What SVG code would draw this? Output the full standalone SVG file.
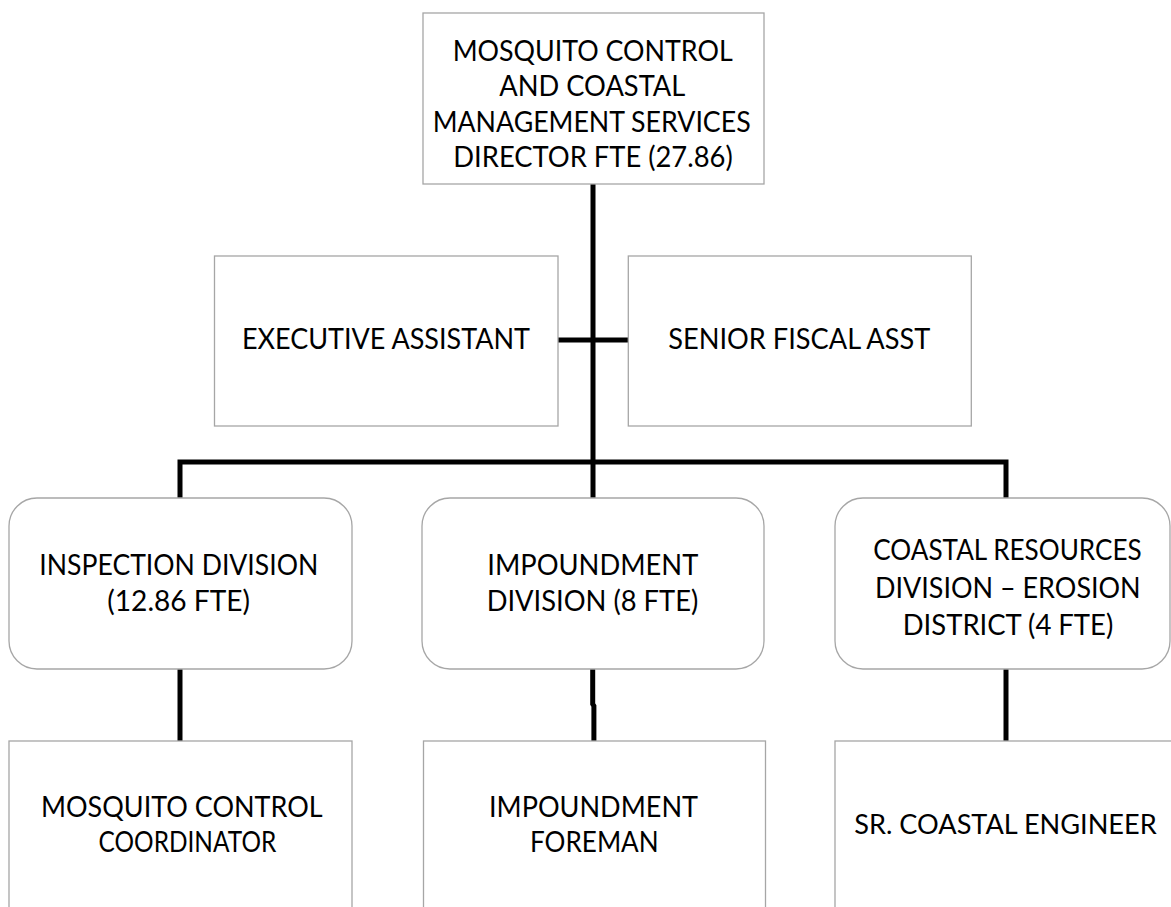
<svg xmlns="http://www.w3.org/2000/svg" width="1171" height="907" viewBox="0 0 1171 907">
<style>
.box{fill:#ffffff;stroke:#a6a6a6;stroke-width:1.3}
.t{font-family:Lato,"Open Sans","Liberation Sans",sans-serif;font-size:29px;fill:#000000}
.c{fill:none;stroke:#000000;stroke-width:5;stroke-linejoin:miter;stroke-linecap:butt}
</style>
<rect width="1171" height="907" fill="#ffffff"/>
<g id="connectors">
<path class="c" d="M593 184 V498"/>
<path class="c" d="M558 340 H628"/>
<path class="c" d="M180 498 V462 H1006 V498"/>
<path class="c" d="M180 669 V741"/>
<path class="c" d="M592.7 669 V704 L593.9 706 V741"/>
<path class="c" d="M1006 669 V741"/>
</g>
<g id="director">
<rect class="box" x="423" y="13" width="341" height="171"/>
<text class="t" x="452.7" y="60.5" textLength="280" lengthAdjust="spacingAndGlyphs">MOSQUITO CONTROL</text>
<text class="t" x="499.3" y="96" textLength="186" lengthAdjust="spacingAndGlyphs">AND COASTAL</text>
<text class="t" x="432.7" y="132" textLength="318" lengthAdjust="spacingAndGlyphs">MANAGEMENT SERVICES</text>
<text class="t" x="453.3" y="167" textLength="279.4" lengthAdjust="spacingAndGlyphs">DIRECTOR FTE (27.86)</text>
</g>
<g id="executive-assistant">
<rect class="box" x="214.5" y="256" width="343.5" height="170"/>
<text class="t" x="242" y="349.3" textLength="288" lengthAdjust="spacingAndGlyphs">EXECUTIVE ASSISTANT</text>
</g>
<g id="senior-fiscal-asst">
<rect class="box" x="628.3" y="256" width="343" height="170"/>
<text class="t" x="668.3" y="349.3" textLength="262" lengthAdjust="spacingAndGlyphs">SENIOR FISCAL ASST</text>
</g>
<g id="inspection-division">
<rect class="box" x="9" y="498" width="343" height="171" rx="28" ry="28"/>
<text class="t" x="39.3" y="575" textLength="279" lengthAdjust="spacingAndGlyphs">INSPECTION DIVISION</text>
<text class="t" x="107.3" y="610.5" textLength="142.7" lengthAdjust="spacingAndGlyphs">(12.86 FTE)</text>
</g>
<g id="impoundment-division">
<rect class="box" x="422" y="498" width="342" height="171" rx="28" ry="28"/>
<text class="t" x="487.3" y="575" textLength="211" lengthAdjust="spacingAndGlyphs">IMPOUNDMENT</text>
<text class="t" x="486.7" y="610.5" textLength="211.6" lengthAdjust="spacingAndGlyphs">DIVISION (8 FTE)</text>
</g>
<g id="coastal-resources-division">
<rect class="box" x="835" y="498" width="335" height="171" rx="28" ry="28"/>
<text class="t" x="873.3" y="560" textLength="268.4" lengthAdjust="spacingAndGlyphs" style="font-size:28px">COASTAL RESOURCES</text>
<text class="t" x="875" y="598" textLength="265.7" lengthAdjust="spacingAndGlyphs">DIVISION – EROSION</text>
<text class="t" x="902.7" y="635" textLength="210.6" lengthAdjust="spacingAndGlyphs">DISTRICT (4 FTE)</text>
</g>
<g id="mosquito-control-coordinator">
<rect class="box" x="9" y="741" width="343" height="190"/>
<text class="t" x="41" y="816.7" textLength="281.6" lengthAdjust="spacingAndGlyphs">MOSQUITO CONTROL</text>
<text class="t" x="98.6" y="851.7" textLength="177.7" lengthAdjust="spacingAndGlyphs">COORDINATOR</text>
</g>
<g id="impoundment-foreman">
<rect class="box" x="423.5" y="741" width="342" height="190"/>
<text class="t" x="489" y="816.7" textLength="209" lengthAdjust="spacingAndGlyphs">IMPOUNDMENT</text>
<text class="t" x="530" y="851.7" textLength="128.7" lengthAdjust="spacingAndGlyphs">FOREMAN</text>
</g>
<g id="sr-coastal-engineer">
<rect class="box" x="835" y="741" width="337" height="190"/>
<text class="t" x="854.3" y="834" textLength="302.4" lengthAdjust="spacingAndGlyphs" style="font-size:27px">SR. COASTAL ENGINEER</text>
</g>
</svg>
